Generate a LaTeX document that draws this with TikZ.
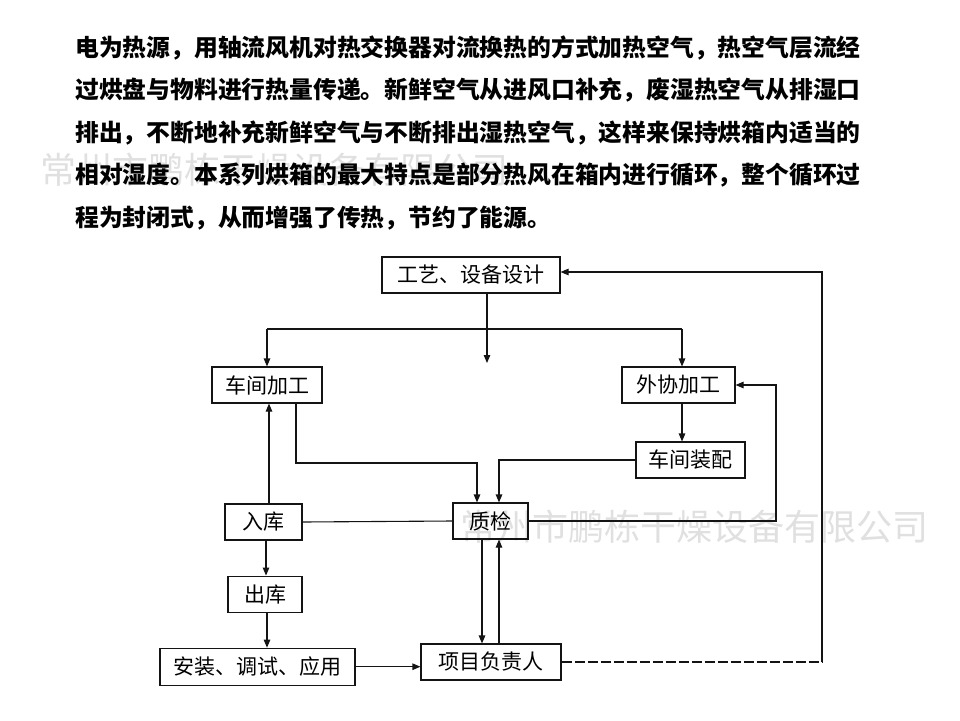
\documentclass[tikz,border=0pt]{standalone}
\usepackage{fontspec}
\setmainfont{Noto Sans CJK SC}
\usepackage{xcolor}
\definecolor{LineBlack}{RGB}{20,20,20}
\definecolor{MarkGray}{RGB}{224,224,224}
\usepackage{tikz}
\usetikzlibrary{arrows.meta, positioning, calc}
\tikzset{
  % Process box
  procbox/.style={
    rectangle, draw=LineBlack, line width=1.1pt,
    minimum height=36pt, inner sep=0pt,
    font=\fontsize{21}{21}\selectfont
  },
  % Lines and arrows
  plain/.style={line width=1.1pt, LineBlack},
  arr/.style={-{Triangle[length=8pt,width=6.5pt]}, plain},
  darr/.style={plain, dash pattern=on 10pt off 3pt},
  % Paragraph line
  para/.style={anchor=west, inner sep=0pt, font=\fontsize{23.8}{23.8}\selectfont\bfseries},
  % Watermark
  wmark/.style={anchor=west, text=MarkGray, inner sep=0pt, font=\fontsize{36}{36}\selectfont},
}

\begin{document}
\begin{tikzpicture}[x=1pt, y=-1pt]
  \useasboundingbox (0,0) rectangle (960,720);

  %% Watermarks
  \node[wmark] (wm1) at (40,170)  {常州市鹏栋干燥设备有限公司};
  \node[wmark] (wm2) at (460,527) {常州市鹏栋干燥设备有限公司};

  %% Paragraph
  \foreach \txt [count=\i] in {
    电为热源，用轴流风机对热交换器对流换热的方式加热空气，热空气层流经,
    过烘盘与物料进行热量传递。新鲜空气从进风口补充，废湿热空气从排湿口,
    排出，不断地补充新鲜空气与不断排出湿热空气，这样来保持烘箱内适当的,
    相对湿度。本系列烘箱的最大特点是部分热风在箱内进行循环，整个循环过,
    程为封闭式，从而增强了传热，节约了能源。}
    \node[para] (p\i) at (75,{48+42.5*(\i-1)}) {\txt};

  %% Process boxes
  \node[procbox, minimum width=178pt] (design)   at (471,275)   {工艺、设备设计};
  \node[procbox, minimum width=110pt] (shopproc) at (267,385)   {车间加工};
  \node[procbox, minimum width=113pt] (outproc)  at (678.5,385) {外协加工};
  \node[procbox, minimum width=109pt] (assembly) at (690.5,460) {车间装配};
  \node[procbox, minimum width=77pt]  (instock)  at (263.5,522) {入库};
  \node[procbox, minimum width=75pt]  (qc)       at (490.5,521) {质检};
  \node[procbox, minimum width=74pt, below=35pt of instock, xshift=1.5pt]
    (outstock) {出库};
  \node[procbox, minimum width=195pt, minimum height=37pt,
        below=35pt of outstock, xshift=-7.5pt]
    (install) {安装、调试、应用};
  \node[procbox, minimum width=140pt] (pm)       at (491,662)   {项目负责人};

  %% Junction points
  \coordinate (drop)     at (487,363);
  \coordinate (busL)     at (267,329);
  \coordinate (busR)     at (682,329);
  \coordinate (shopdown) at (296,463);
  \coordinate (qcin)     at (477,463);
  \coordinate (qcloop)   at (776,519);
  \coordinate (fbTop)    at (822,272);

  %% Design to processing
  \draw[arr] (drop |- design.south) -- (drop);
  \draw[plain] (busL) -- (busR);
  \draw[arr] (busL) -- (busL |- shopproc.north);
  \draw[arr] (busR) -- (busR |- outproc.north);
  \draw[arr] (busR |- outproc.south) -- (busR |- assembly.north);

  %% Into quality check
  \draw[arr] (shopdown |- shopproc.south) -- (shopdown) -- (qcin) -- (qcin |- qc.north);
  \draw[arr] (assembly.west) -| ([xshift=8.5pt]qc.north);
  \draw[plain] (instock.east) -- (qc.west);
  \draw[arr] (qc.east) -- (qc.east -| qcloop) |- (outproc.east);

  %% Stock column
  \draw[arr] ([xshift=5.5pt]instock.north) -- ([xshift=5.5pt]instock.north |- shopproc.south);
  \draw[arr] ([xshift=2.5pt]instock.south) -- ([xshift=2.5pt]instock.south |- outstock.north);
  \draw[arr] ([xshift=2pt]outstock.south) -- ([xshift=2pt]outstock.south |- install.north);
  \draw[arr] (install.east) -- (install.east -| pm.west);

  %% Quality check and project manager
  \draw[arr] ([xshift=-8.5pt]qc.south) -- ([xshift=-8.5pt]qc.south |- pm.north);
  \draw[arr] ([xshift=8pt]pm.north) -- ([xshift=8pt]pm.north |- qc.south);

  %% Feedback to design
  \draw[darr] (pm.east) -- (pm.east -| fbTop);
  \draw[arr] (pm.east -| fbTop) -- (fbTop) -- (fbTop -| design.east);

\end{tikzpicture}
\end{document}
